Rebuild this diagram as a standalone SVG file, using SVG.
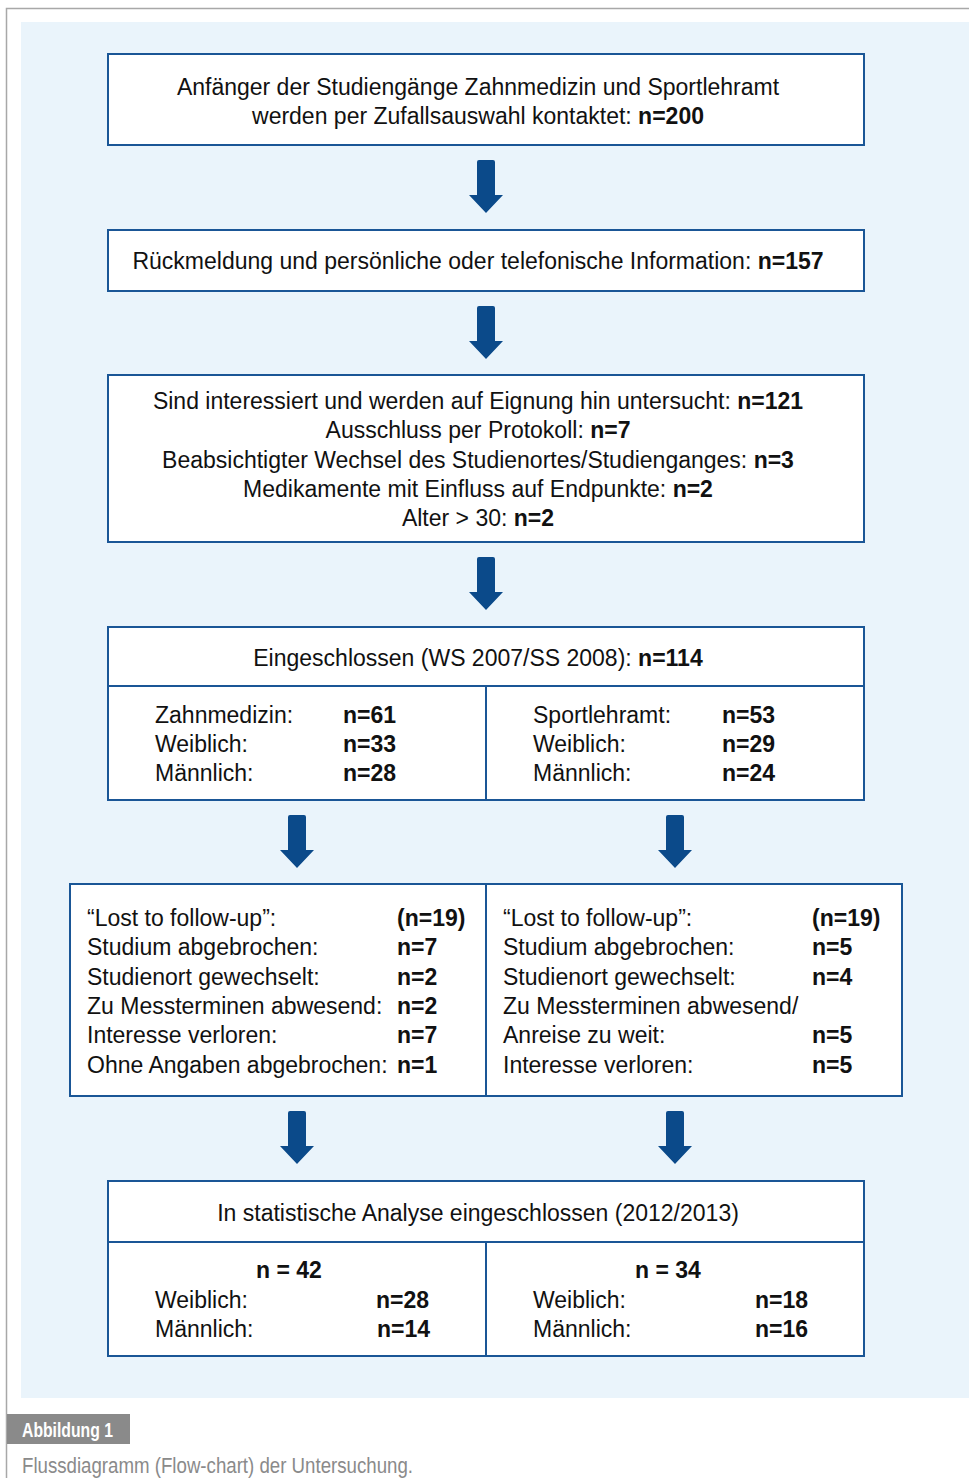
<svg xmlns="http://www.w3.org/2000/svg" width="969" height="1478" viewBox="0 0 969 1478">
<defs>
<style>
.box{fill:#ffffff;stroke:#1a5696;stroke-width:2}
.div{stroke:#1a5696;stroke-width:2;fill:none}
.t{font-family:"Liberation Sans",Arial,sans-serif;font-size:23px;fill:#111}
.c{text-anchor:middle}
.b{font-weight:bold}
.arr{fill:#0b4a8a}
</style>
<path id="arrow" d="M-9,0 Q-9,-2 -7,-2 L7,-2 Q9,-2 9,0 L9,33 L17,33 L0,51 L-17,33 L-9,33 Z"/>
</defs>
<rect x="0" y="0" width="969" height="1478" fill="#ffffff"/>
<path d="M6.5,1478 L6.5,8.5 L969,8.5" fill="none" stroke="#a8a8a8" stroke-width="1.5"/>
<rect x="21" y="22" width="948" height="1376" fill="#eaf4fb"/>

<g id="connectors" class="arr">
<use href="#arrow" x="486" y="162"/>
<use href="#arrow" x="486" y="308"/>
<use href="#arrow" x="486" y="559"/>
<use href="#arrow" x="297" y="817"/>
<use href="#arrow" x="675" y="817"/>
<use href="#arrow" x="297" y="1113"/>
<use href="#arrow" x="675" y="1113"/>
</g>

<g id="node1">
<rect class="box" x="108" y="54" width="756" height="91"/>
<text class="t c" x="478" y="95">Anfänger der Studiengänge Zahnmedizin und Sportlehramt</text>
<text class="t c" x="478" y="124">werden per Zufallsauswahl kontaktet: <tspan class="b">n=200</tspan></text>
</g>

<g id="node2">
<rect class="box" x="108" y="230" width="756" height="61"/>
<text class="t c" x="478" y="269">Rückmeldung und persönliche oder telefonische Information: <tspan class="b">n=157</tspan></text>
</g>

<g id="node3">
<rect class="box" x="108" y="375" width="756" height="167"/>
<text class="t c" x="478" y="409">Sind interessiert und werden auf Eignung hin untersucht: <tspan class="b">n=121</tspan></text>
<text class="t c" x="478" y="438">Ausschluss per Protokoll: <tspan class="b">n=7</tspan></text>
<text class="t c" x="478" y="468">Beabsichtigter Wechsel des Studienortes/Studienganges: <tspan class="b">n=3</tspan></text>
<text class="t c" x="478" y="497">Medikamente mit Einfluss auf Endpunkte: <tspan class="b">n=2</tspan></text>
<text class="t c" x="478" y="526">Alter &gt; 30: <tspan class="b">n=2</tspan></text>
</g>

<g id="node4">
<rect class="box" x="108" y="627" width="756" height="173"/>
<path class="div" d="M108,686 L864,686 M486,686 L486,800"/>
<text class="t c" x="478" y="666">Eingeschlossen (WS 2007/SS 2008): <tspan class="b">n=114</tspan></text>
<text class="t" x="155" y="723">Zahnmedizin:</text>
<text class="t b" x="343" y="723">n=61</text>
<text class="t" x="155" y="752">Weiblich:</text>
<text class="t b" x="343" y="752">n=33</text>
<text class="t" x="155" y="781">Männlich:</text>
<text class="t b" x="343" y="781">n=28</text>
<text class="t" x="533" y="723">Sportlehramt:</text>
<text class="t b" x="722" y="723">n=53</text>
<text class="t" x="533" y="752">Weiblich:</text>
<text class="t b" x="722" y="752">n=29</text>
<text class="t" x="533" y="781">Männlich:</text>
<text class="t b" x="722" y="781">n=24</text>
</g>

<g id="node5">
<rect class="box" x="70" y="884" width="832" height="212"/>
<path class="div" d="M486,884 L486,1096"/>
<text class="t" x="87" y="926">“Lost to follow-up”:</text>
<text class="t b" x="397" y="926">(n=19)</text>
<text class="t" x="87" y="955">Studium abgebrochen:</text>
<text class="t b" x="397" y="955">n=7</text>
<text class="t" x="87" y="985">Studienort gewechselt:</text>
<text class="t b" x="397" y="985">n=2</text>
<text class="t" x="87" y="1014">Zu Messterminen abwesend:</text>
<text class="t b" x="397" y="1014">n=2</text>
<text class="t" x="87" y="1043">Interesse verloren:</text>
<text class="t b" x="397" y="1043">n=7</text>
<text class="t" x="87" y="1073">Ohne Angaben abgebrochen:</text>
<text class="t b" x="397" y="1073">n=1</text>
<text class="t" x="503" y="926">“Lost to follow-up”:</text>
<text class="t b" x="812" y="926">(n=19)</text>
<text class="t" x="503" y="955">Studium abgebrochen:</text>
<text class="t b" x="812" y="955">n=5</text>
<text class="t" x="503" y="985">Studienort gewechselt:</text>
<text class="t b" x="812" y="985">n=4</text>
<text class="t" x="503" y="1014">Zu Messterminen abwesend/</text>
<text class="t" x="503" y="1043">Anreise zu weit:</text>
<text class="t b" x="812" y="1043">n=5</text>
<text class="t" x="503" y="1073">Interesse verloren:</text>
<text class="t b" x="812" y="1073">n=5</text>
</g>

<g id="node6">
<rect class="box" x="108" y="1181" width="756" height="175"/>
<path class="div" d="M108,1242 L864,1242 M486,1242 L486,1356"/>
<text class="t c" x="478" y="1221">In statistische Analyse eingeschlossen (2012/2013)</text>
<text class="t c b" x="289" y="1278">n = 42</text>
<text class="t" x="155" y="1308">Weiblich:</text>
<text class="t b" x="376" y="1308">n=28</text>
<text class="t" x="155" y="1337">Männlich:</text>
<text class="t b" x="377" y="1337">n=14</text>
<text class="t c b" x="668" y="1278">n = 34</text>
<text class="t" x="533" y="1308">Weiblich:</text>
<text class="t b" x="755" y="1308">n=18</text>
<text class="t" x="533" y="1337">Männlich:</text>
<text class="t b" x="755" y="1337">n=16</text>
</g>

<g id="caption">
<rect x="7" y="1414" width="123" height="30" fill="#8a8a8a"/>
<text x="22" y="1437" font-family="Liberation Sans, Arial, sans-serif" font-size="20" font-weight="bold" fill="#ffffff" textLength="91" lengthAdjust="spacingAndGlyphs">Abbildung 1</text>
<text x="22" y="1473" font-family="Liberation Sans, Arial, sans-serif" font-size="22" fill="#8a8a8a" textLength="391" lengthAdjust="spacingAndGlyphs">Flussdiagramm (Flow-chart) der Untersuchung.</text>
</g>
</svg>
